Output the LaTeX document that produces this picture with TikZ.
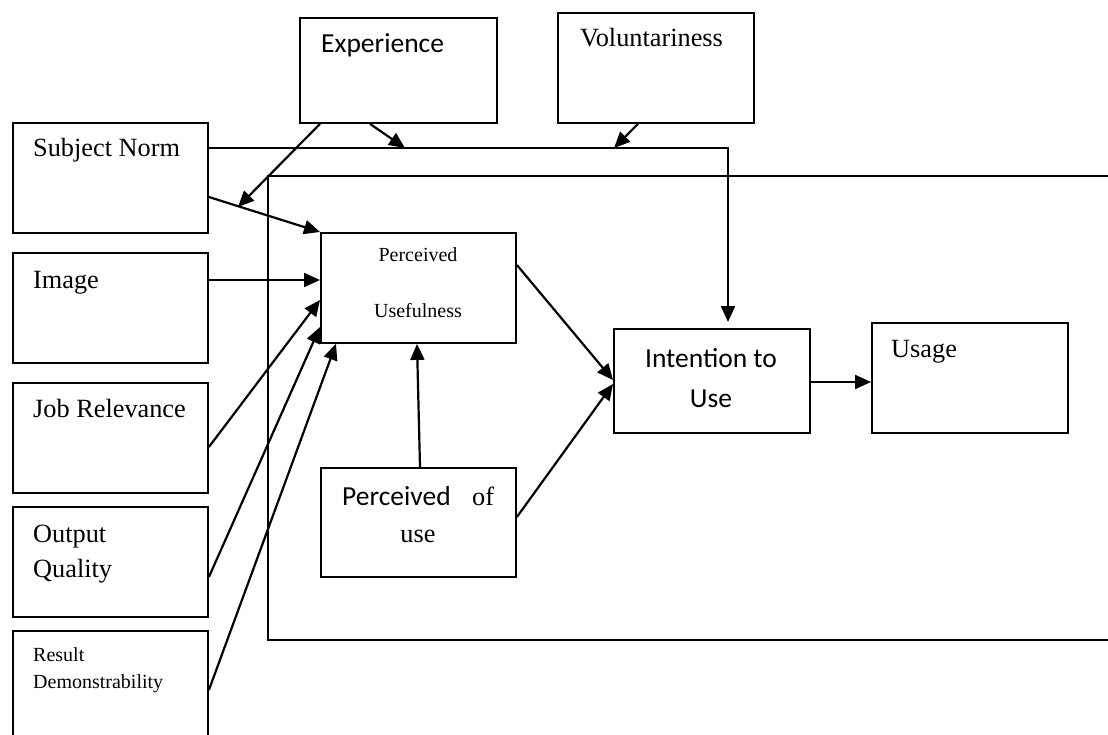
\documentclass[tikz,border=0pt]{standalone}
\usepackage{fontspec}
\setmainfont{Liberation Serif}
\newfontfamily\calibri{Carlito}
\usetikzlibrary{arrows.meta}
\begin{document}
\begin{tikzpicture}[x=1pt,y=-1pt,
  box/.style={draw,line width=1.9pt,inner sep=0pt,anchor=north west},
  conn/.style={line width=2.2pt,-{Triangle[length=16pt,width=14pt]}},
  frame/.style={line width=1.9pt},
  txt/.style={inner sep=0pt,anchor=base west,font=\fontsize{26.3}{30}\selectfont},
  stxt/.style={inner sep=0pt,anchor=base west,font=\fontsize{20}{24}\selectfont},
  ctxt/.style={inner sep=0pt,anchor=base,font=\fontsize{20}{24}\selectfont},
  cal/.style={inner sep=0pt,font=\calibri\fontsize{27.5}{32}\selectfont}]
\useasboundingbox (0,0) rectangle (1108,735);
% boxes
\node[box,minimum width=197pt,minimum height=105pt] (exp) at (299,17) {};
\node[box,minimum width=196pt,minimum height=110pt] (vol) at (557,12) {};
\node[box,minimum width=195pt,minimum height=110pt] (sn) at (12,122) {};
\node[box,minimum width=195pt,minimum height=110pt] (img) at (12,252) {};
\node[box,minimum width=195pt,minimum height=110pt] (jr) at (12,382) {};
\node[box,minimum width=195pt,minimum height=110pt] (oq) at (12,506) {};
\node[box,minimum width=195pt,minimum height=115pt] (rd) at (12,630) {};
\node[box,minimum width=195pt,minimum height=110pt] (pu) at (320,232) {};
\node[box,minimum width=195pt,minimum height=109pt] (peou) at (320,467) {};
\node[box,minimum width=196pt,minimum height=104pt] (iu) at (613,328) {};
\node[box,minimum width=196pt,minimum height=110pt] (usage) at (871,322) {};
% big frame (open to the right)
\draw[frame] (1112,176) -- (268,176) -- (268,640) -- (1112,640);
% texts
\node[cal,anchor=base west] (t-exp) at (321,53) {Experience};
\node[txt] (t-vol) at (580,47) {Voluntariness};
\node[txt] (t-sn) at (33,157) {Subject Norm};
\node[txt] (t-img) at (33,288) {Image};
\node[txt] (t-jr) at (33,417) {Job Relevance};
\node[txt] (t-oq1) at (33,542) {Output};
\node[txt] (t-oq2) at (33,577) {Quality};
\node[stxt] (t-rd1) at (33,661) {Result};
\node[stxt] (t-rd2) at (33,688) {Demonstrability};
\node[ctxt] (t-pu1) at (418,262) {Perceived};
\node[ctxt] (t-pu2) at (418,317) {Usefulness};
\node[cal,anchor=base west] (t-pe1) at (342,505) {Perceived};
\node[txt] (t-pe2) at (472,505) {of};
\node[txt,anchor=base] (t-pe3) at (418,542) {use};
\node[cal,anchor=base] (t-iu1) at (711,367) {Intention to};
\node[cal,anchor=base] (t-iu2) at (711,407) {Use};
\node[txt] (t-us) at (891,357) {Usage};
% free-end coordinates on other connectors
\coordinate (onSNPU) at (238,207);
\coordinate (onSN1) at (405,148);
\coordinate (onSN2) at (614,148);
% connectors
\draw[conn,shorten >=6pt] ([yshift=-26pt]sn.north east) -| ([xshift=115pt]iu.north west);
\draw[conn] ([yshift=-75pt]sn.north east) -- (pu.north west);
\draw[conn] ([xshift=21pt]exp.south west) -- (onSNPU);
\draw[conn] ([xshift=71pt]exp.south west) -- (onSN1);
\draw[conn] ([xshift=81pt]vol.south west) -- (onSN2);
\draw[conn] ([yshift=-28pt]img.north east) -- ([yshift=-48pt]pu.north west);
\draw[conn] ([yshift=-65pt]jr.north east) -- ([yshift=-68pt]pu.north west);
\draw[conn] ([yshift=-71pt]oq.north east) -- ([yshift=-95pt]pu.north west);
\draw[conn] ([yshift=-60pt]rd.north east) -- ([xshift=16pt]pu.south west);
\draw[conn] ([xshift=100pt]peou.north west) -- ([xshift=97pt]pu.south west);
\draw[conn] ([yshift=-33pt]pu.north east) -- ([yshift=-52pt]iu.north west);
\draw[conn] ([yshift=-50pt]peou.north east) -- ([yshift=-56pt]iu.north west);
\draw[conn] ([yshift=-54pt]iu.north east) -- ([yshift=-60pt]usage.north west);
\end{tikzpicture}
\end{document}
